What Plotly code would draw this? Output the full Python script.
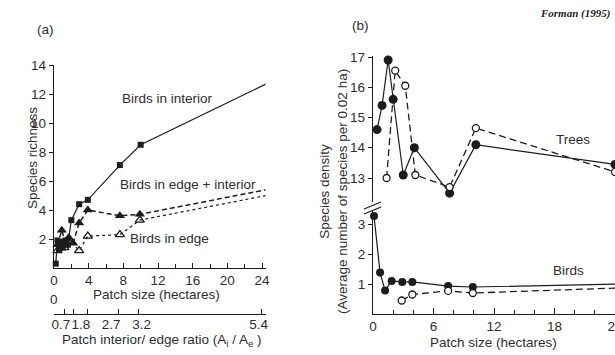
import plotly.graph_objects as go

W, H = 615, 355
INK = "#1c1c1c"
TXT = "#2e2e2e"
FONT = "Liberation Sans, Arial, sans-serif"
FS = 13.5


def px(x):
    return x / W


def py(y):
    return 1 - y / H


# ---------------- Panel (a) data ----------------
a_interior_x = [0.2, 0.4, 0.6, 0.8, 1.0, 1.3, 1.6, 2.0, 2.9, 3.9, 7.6, 10.0, 24.5]
a_interior_y = [0.3, 1.9, 1.3, 1.8, 1.4, 1.9, 1.6, 3.3, 4.4, 4.7, 7.1, 8.5, 12.7]

a_edge_int_x = [0.4, 0.9, 1.3, 1.7, 2.2, 2.9, 3.9, 7.6, 9.9, 24.5]
a_edge_int_y = [1.6, 2.6, 1.8, 2.1, 1.7, 3.1, 4.0, 3.6, 3.7, 5.4]

a_edge_x = [0.4, 0.8, 1.2, 1.6, 2.0, 2.9, 3.9, 7.6, 9.9, 24.5]
a_edge_y = [1.2, 1.6, 1.4, 1.9, 1.8, 1.2, 2.2, 2.3, 3.3, 5.0]

a_x_ticks = [0, 4, 8, 12, 16, 20, 24]
a_y_ticks = [2, 4, 6, 8, 10, 12, 14]

# patch interior / edge ratio axis
ratio_tick_x = [0, 1.2, 2.2, 3.9, 7.4, 9.8, 23.9]
ratio_label_x = [0.8, 3.1, 6.6, 10.1, 23.6]
ratio_labels = ["0.7", "1.8", "2.7", "3.2", "5.4"]
ratio_zero = "0"

# ---------------- Panel (b) data ----------------
trees_filled_x = [0.4, 0.9, 1.5, 2.0, 3.0, 4.1, 7.6, 10.2, 24.0]
trees_filled_y = [14.6, 15.4, 16.9, 15.6, 13.1, 14.0, 12.5, 14.1, 13.45]

trees_open_x = [1.35, 2.2, 3.2, 4.2, 7.6, 10.2, 24.0]
trees_open_y = [13.0, 16.55, 16.05, 13.1, 12.7, 14.65, 13.2]

birds_filled_x = [0.1, 0.7, 1.2, 1.85, 2.9, 3.9, 7.45, 9.9, 24.5]
birds_filled_y = [3.27, 1.38, 0.78, 1.1, 1.07, 1.07, 0.93, 0.9, 1.0]

birds_open_x = [2.85, 3.9, 7.45, 9.9, 24.5]
birds_open_y = [0.45, 0.65, 0.77, 0.7, 0.87]

b_x_ticks = [0, 6, 12, 18, 24]
b_low_ticks = [1, 2, 3]
b_up_ticks = [13, 14, 15, 16, 17]

fig = go.Figure()

# Panel (a) traces
fig.add_trace(go.Scatter(
    x=a_interior_x, y=a_interior_y, mode="lines+markers", xaxis="x", yaxis="y",
    line=dict(color=INK, width=1.2),
    marker=dict(symbol="square", size=6, color=INK),
    cliponaxis=False, showlegend=False, hoverinfo="skip"))
fig.add_trace(go.Scatter(
    x=a_edge_int_x, y=a_edge_int_y, mode="lines+markers", xaxis="x", yaxis="y",
    line=dict(color=INK, width=1.5, dash="5px,3px"),
    marker=dict(symbol="triangle-up", size=9, color=INK),
    cliponaxis=False, showlegend=False, hoverinfo="skip"))
fig.add_trace(go.Scatter(
    x=a_edge_x, y=a_edge_y, mode="lines+markers", xaxis="x", yaxis="y",
    line=dict(color=INK, width=1.2, dash="dot"),
    marker=dict(symbol="triangle-up-open", size=8, color=INK, line=dict(width=1.3, color=INK)),
    cliponaxis=False, showlegend=False, hoverinfo="skip"))

# dummy traces so the ratio axes render
fig.add_trace(go.Scatter(x=[None], y=[None], xaxis="x3", yaxis="y", showlegend=False, hoverinfo="skip"))
fig.add_trace(go.Scatter(x=[None], y=[None], xaxis="x4", yaxis="y", showlegend=False, hoverinfo="skip"))

# Panel (b) traces
fig.add_trace(go.Scatter(
    x=trees_filled_x, y=trees_filled_y, mode="lines+markers", xaxis="x2", yaxis="y3",
    line=dict(color=INK, width=1.2),
    marker=dict(symbol="circle", size=9, color=INK),
    cliponaxis=False, showlegend=False, hoverinfo="skip"))
fig.add_trace(go.Scatter(
    x=trees_open_x, y=trees_open_y, mode="lines+markers", xaxis="x2", yaxis="y3",
    line=dict(color=INK, width=1.3, dash="7px,4px"),
    marker=dict(symbol="circle", size=7, color="white", line=dict(width=1.3, color=INK)),
    cliponaxis=False, showlegend=False, hoverinfo="skip"))
fig.add_trace(go.Scatter(
    x=birds_filled_x, y=birds_filled_y, mode="lines+markers", xaxis="x2", yaxis="y2",
    line=dict(color=INK, width=1.2),
    marker=dict(symbol="circle", size=8, color=INK),
    cliponaxis=False, showlegend=False, hoverinfo="skip"))
fig.add_trace(go.Scatter(
    x=birds_open_x, y=birds_open_y, mode="lines+markers", xaxis="x2", yaxis="y2",
    line=dict(color=INK, width=1.3, dash="7px,4px"),
    marker=dict(symbol="circle", size=7, color="white", line=dict(width=1.3, color=INK)),
    cliponaxis=False, showlegend=False, hoverinfo="skip"))

common = dict(showline=True, linecolor=INK, linewidth=1.3, showgrid=False, zeroline=False,
              tickcolor=INK, tickwidth=1.2, automargin=False, tickangle=0,
              tickfont=dict(size=FS, color=TXT, family=FONT), ticklabeloverflow="allow")

a_xrange = [0, 24.4]

fig.update_layout(
    width=W, height=H, autosize=False,
    margin=dict(l=0, r=0, t=0, b=0, pad=0),
    paper_bgcolor="white", plot_bgcolor="rgba(0,0,0,0)",
    xaxis=dict(domain=[px(54), px(265.5)], range=a_xrange, anchor="y",
               tickvals=a_x_ticks, ticks="inside", ticklen=5,
               minor=dict(dtick=2, tick0=0, ticks="inside", ticklen=4, tickcolor=INK, tickwidth=1.1),
               **common),
    yaxis=dict(domain=[py(268), py(65)], range=[0, 14], anchor="x",
               tickvals=a_y_ticks, ticks="outside", ticklen=4, **common),
    xaxis3=dict(overlaying="x", anchor="free", position=py(314), range=a_xrange,
                tickvals=ratio_tick_x, showticklabels=False,
                ticks="inside", ticklen=5, **common),
    xaxis4=dict(overlaying="x", anchor="free", position=py(314), range=a_xrange,
                tickvals=ratio_label_x, ticktext=ratio_labels, ticks="",
                showline=False, showgrid=False, zeroline=False, automargin=False, tickangle=0,
                tickfont=dict(size=FS, color=TXT, family=FONT)),
    xaxis2=dict(domain=[px(373), 1.0], range=[0, 24.0], anchor="y2",
                tickvals=b_x_ticks, ticks="inside", ticklen=6,
                minor=dict(dtick=2, tick0=0, ticks="inside", ticklen=4, tickcolor=INK, tickwidth=1.1),
                **common),
    yaxis2=dict(domain=[py(314), py(210.5)], range=[0, 3.45], anchor="x2",
                tickvals=b_low_ticks, ticks="outside", ticklen=4, **common),
    yaxis3=dict(domain=[py(202.2), py(55.5)], range=[12.2, 17.05], anchor="x2",
                tickvals=b_up_ticks, ticks="outside", ticklen=4, **common),
)


def label(text, x, y, size=FS, angle=0, family=FONT):
    fig.add_annotation(text=text, x=px(x), y=py(y), xref="paper", yref="paper",
                       showarrow=False, textangle=angle, xanchor="center", yanchor="middle",
                       font=dict(size=size, color=TXT, family=family))


# Panel (a) texts
label("(a)", 45, 29)
label("Species richness", 32, 158, angle=-90)
label("Patch size (hectares)", 156, 294)
label(ratio_zero, 54, 299)
label("Patch interior/ edge ratio (A<sub>i</sub> / A<sub>e</sub> )", 161, 340)
label("Birds in interior", 167, 98)
label("Birds in edge + interior", 188, 184)
label("Birds in edge", 169, 238)

# Panel (b) texts
label("(b)", 360, 25)
label("Species density<br>(Average number of species per 0.02 ha)", 334, 192, angle=-90)
label("Patch size (hectares)", 493, 342)
label("Trees", 573, 140)
label("Birds", 568, 270)
fig.add_annotation(text="<b><i>Forman (1995)</i></b>", x=px(612), y=py(14), xref="paper", yref="paper",
                   showarrow=False, xanchor="right", yanchor="middle",
                   font=dict(size=11, color="#222", family="Liberation Serif, Times New Roman, serif"))

# axis break marks on panel (b) y axis
for y0 in (209, 214):
    fig.add_shape(type="line", xref="paper", yref="paper",
                  x0=px(364), y0=py(y0), x1=px(381), y1=py(y0 - 7),
                  line=dict(color=INK, width=1.3))

fig.write_html("out.html", config={"displayModeBar": False},
               post_script="document.body.style.margin='0px';document.body.style.overflow='hidden';")
